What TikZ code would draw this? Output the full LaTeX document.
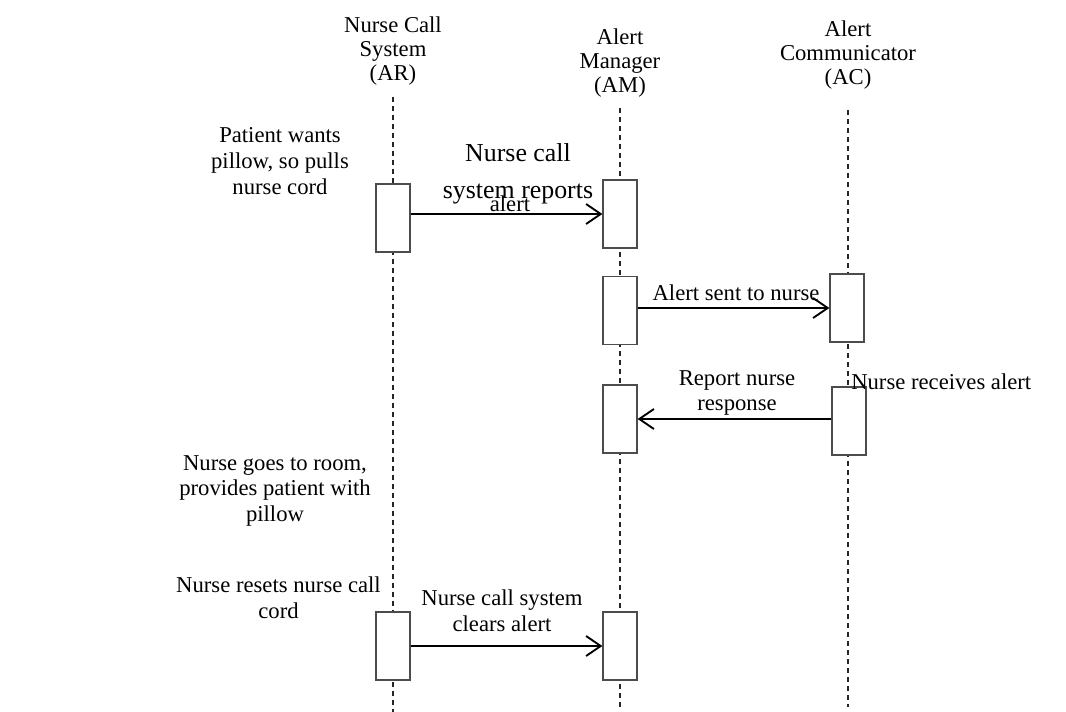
\documentclass[tikz,border=0pt]{standalone}
\usepackage{fontspec}
\setmainfont{Liberation Serif}
\usetikzlibrary{arrows.meta}
\begin{document}
\begin{tikzpicture}[x=0.75pt,y=-0.75pt,
  lbl/.style={inner sep=0pt, align=center, font=\fontsize{17}{19.4}\selectfont},
  head/.style={inner sep=0pt, align=center, anchor=north, font=\fontsize{17}{18}\selectfont},
  big/.style={inner sep=0pt, align=center, font=\fontsize{19.4}{28}\selectfont},
  act/.style={draw=black!70, line width=0.9pt, fill=white, minimum width=25.5pt,
              minimum height=51pt, inner sep=0pt},
  life/.style={line width=1pt, dash pattern=on 3.75pt off 3pt, black!85},
  msg/.style={line width=1.6pt, -{Straight Barb[length=11pt,width=15pt,line width=1.4pt]}},
]
\useasboundingbox (0,0) rectangle (1066,712);

% participants
\node[head] (ar) at (393,17) {Nurse Call\\System\\(AR)};
\node[head] (am) at (620,29) {Alert\\Manager\\(AM)};
\node[head] (ac) at (848,20.5) {Alert\\Communicator\\(AC)};

% lifelines
\coordinate (arTop) at (393,97);  \coordinate (arBot) at (393,712);
\coordinate (amTop) at (620,108); \coordinate (amBot) at (620,707);
\coordinate (acTop) at (848,110); \coordinate (acBot) at (848,707);
\draw[life] (arTop) -- (arBot);
\draw[life] (amTop) -- (amBot);
\draw[life] (acTop) -- (acBot);

% activation bars
\node[act] (b1) at (393,218) {};
\node[act] (b2) at (620,214) {};
\node[act] (b3) at (620,310.5) {};
\node[act] (b4) at (847,308) {};
\node[act] (b5) at (620,419) {};
\node[act] (b6) at (849,421) {};
\node[act] (b7) at (393,646) {};
\node[act] (b8) at (620,646) {};

% messages
\draw[msg] (b1.east |- b2.west) -- (b2.west);
\draw[msg] (b3.east |- b4.west) -- (b4.west);
\draw[msg] (b6.west |- b5.east) -- (b5.east);
\draw[msg] (b7.east |- b8.west) -- (b8.west);

% notes and message labels
\node[lbl, anchor=north] (n1) at (280,127) {Patient wants\\pillow, so pulls\\nurse cord};
\node[big, anchor=north] (m1) at (518,143) {Nurse call\\system reports};
\node[lbl, anchor=north] (m1b) at (510,196) {alert};
\node[lbl, anchor=north] (m2) at (736,285) {Alert sent to nurse};
\node[lbl, anchor=north] (m3) at (737,370) {Report nurse\\response};
\node[lbl, anchor=north west] (n2) at (851,374) {Nurse receives alert};
\node[lbl, anchor=north] (n3) at (275,455) {Nurse goes to room,\\provides patient with\\pillow};
\node[lbl, anchor=north] (n4) at (278.5,577) {Nurse resets nurse call\\cord};
\node[lbl, anchor=north] (m4) at (502,590) {Nurse call system\\clears alert};
\end{tikzpicture}
\end{document}
